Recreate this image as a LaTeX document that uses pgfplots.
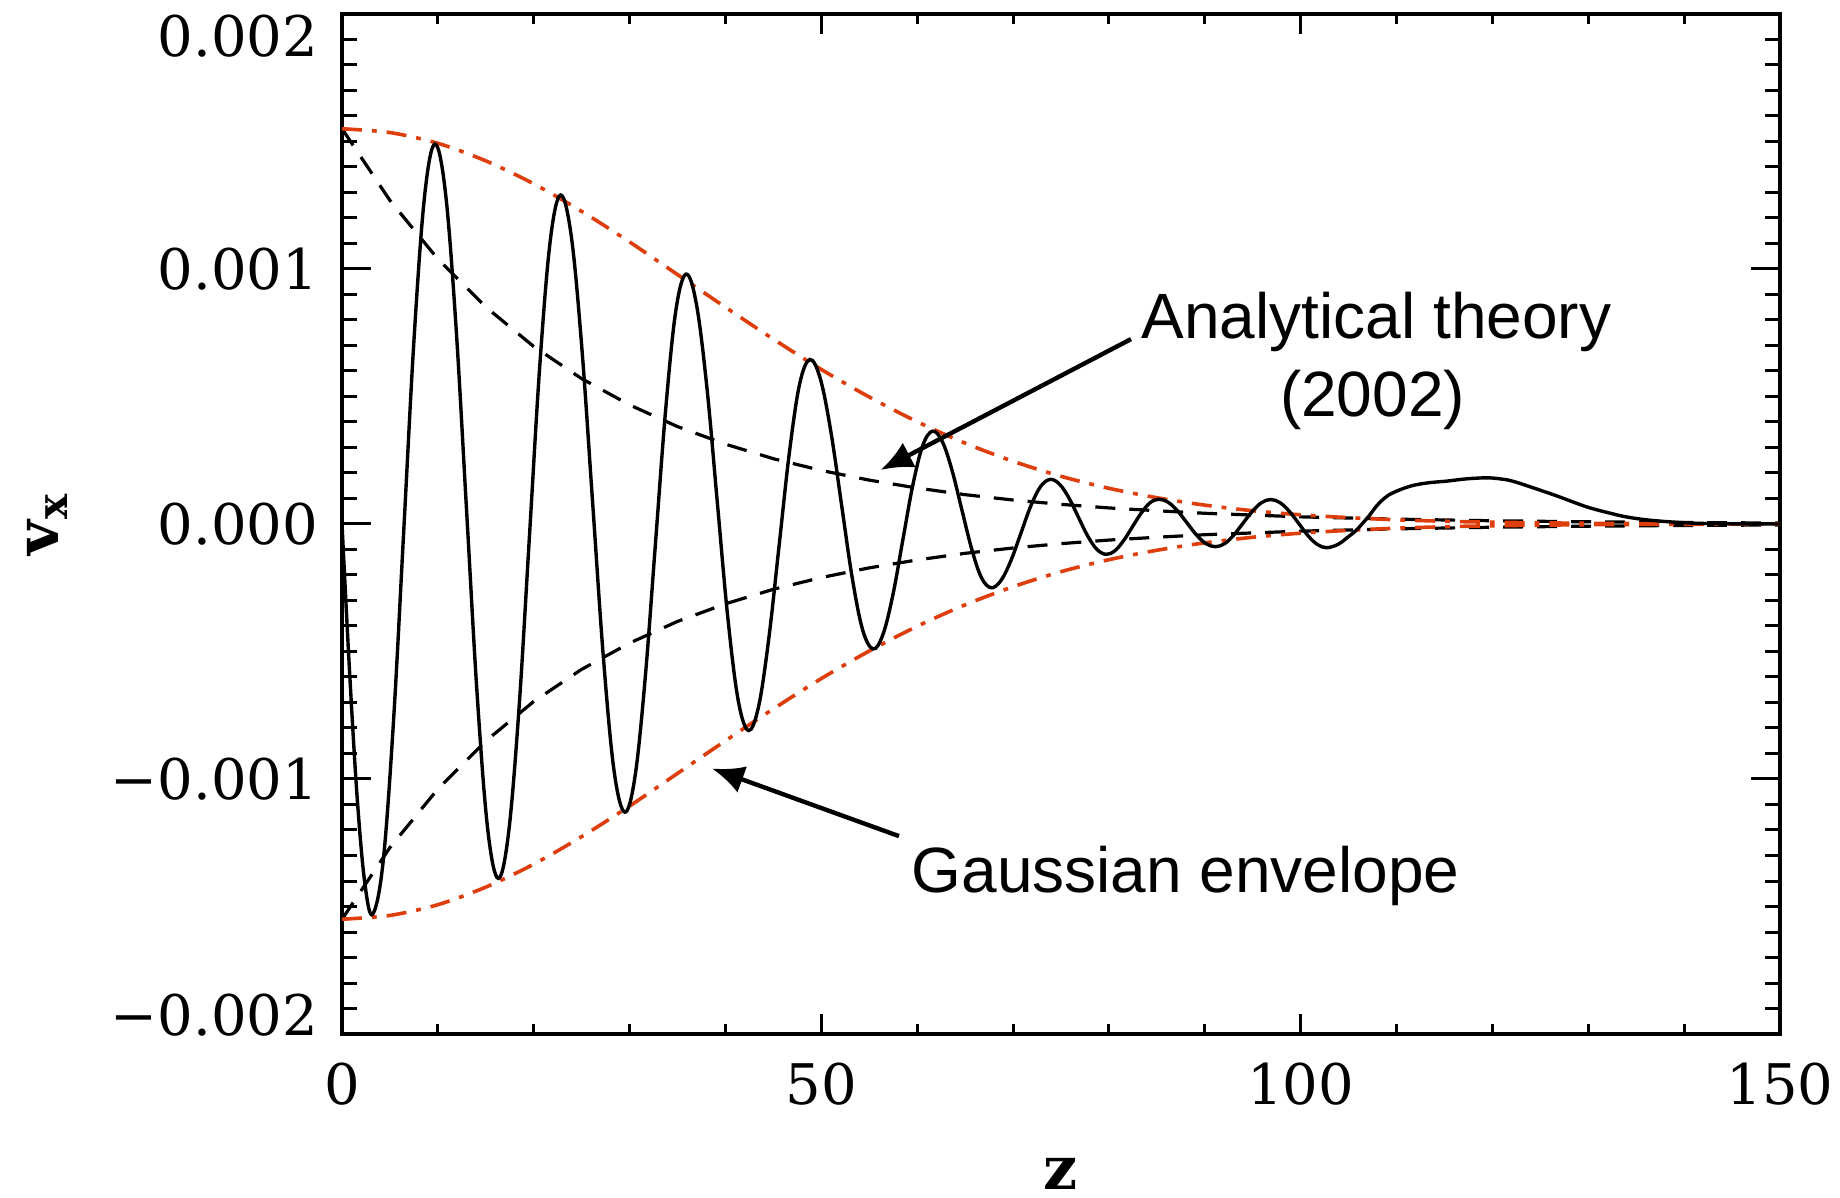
\documentclass[border=0pt]{standalone}
\usepackage{pgfplots}
\pgfplotsset{compat=1.18}
\usepackage{pgfplotstable}
\usepackage{fontspec}
\setmainfont{DejaVu Serif}
\newfontfamily\helv{Liberation Sans}
\usetikzlibrary{arrows.meta}
\definecolor{envred}{RGB}{222,62,12}

\pgfplotstableread{
x y
0 0
0.8 -0.586
1.6 -1.082
2.4 -1.414
3.2 -1.53
4.28 -1.328
5.37 -0.775
6.45 -0.02
7.53 0.735
8.62 1.288
9.7 1.49
10.8 1.297
11.9 0.77
13.0 0.05
14.1 -0.67
15.2 -1.197
16.3 -1.39
17.38 -1.21
18.47 -0.72
19.55 -0.05
20.63 0.62
21.72 1.11
22.8 1.29
23.92 1.128
25.03 0.685
26.15 0.08
27.27 -0.525
28.38 -0.968
29.5 -1.13
30.57 -0.989
31.63 -0.603
32.7 -0.075
33.77 0.452
34.83 0.839
35.9 0.98
36.98 0.86
38.07 0.533
39.15 0.085
40.23 -0.362
41.32 -0.69
42.4 -0.81
43.47 -0.713
44.53 -0.446
45.6 -0.083
46.67 0.281
47.73 0.548
48.8 0.645
49.9 0.569
51.0 0.361
52.1 0.078
53.2 -0.206
54.3 -0.414
55.4 -0.49
56.43 -0.433
57.47 -0.277
58.5 -0.063
59.53 0.15
60.57 0.307
61.6 0.364
62.62 0.323
63.63 0.211
64.65 0.057
65.67 -0.096
66.68 -0.209
67.7 -0.25
68.73 -0.222
69.77 -0.144
70.8 -0.038
71.83 0.069
72.87 0.147
73.9 0.175
74.87 0.155
75.83 0.102
76.8 0.028
77.77 -0.046
78.73 -0.099
79.7 -0.119
80.62 -0.105
81.53 -0.065
82.45 -0.011
83.37 0.043
84.28 0.083
85.2 0.097
86.18 0.085
87.17 0.051
88.15 0.004
89.13 -0.043
90.12 -0.077
91.1 -0.089
92.07 -0.077
93.03 -0.043
94.0 0.004
94.97 0.05
95.93 0.084
96.9 0.096
97.87 0.083
98.83 0.049
99.8 0.002
100.77 -0.046
101.73 -0.080
102.7 -0.093
103.9 -0.080
104.8 -0.055
105.7 -0.028
106.4 0.0
107.2 0.035
107.9 0.070
108.7 0.100
109.6 0.122
111.4 0.148
113.2 0.161
115.2 0.168
117.3 0.177
119.4 0.181
120.8 0.177
122.1 0.168
124.4 0.140
126.8 0.109
128.5 0.085
130.1 0.064
132.0 0.045
133.8 0.029
135.7 0.018
137.6 0.011
139.5 0.006
141.2 0.003
144 0.001
150 0.0
}\solid

\pgfplotstableread{
x up lo
0 1.550 -1.550
5 1.535 -1.535
10 1.493 -1.493
15 1.424 -1.424
20 1.334 -1.334
25 1.226 -1.226
30 1.106 -1.106
35 0.978 -0.978
40 0.850 -0.850
45 0.725 -0.725
50 0.606 -0.606
55 0.498 -0.498
60 0.401 -0.401
65 0.317 -0.317
70 0.246 -0.246
75 0.187 -0.187
80 0.140 -0.140
85 0.103 -0.103
90 0.074 -0.074
95 0.052 -0.052
100 0.036 -0.036
105 0.025 -0.025
110 0.0165 -0.0165
115 0.0108 -0.0108
120 0.007 -0.007
130 0.0027 -0.0027
140 0.001 -0.001
150 0.0003 -0.0003
}\gauss

\pgfplotstableread{
x up lo
0 1.550 -1.550
5 1.269 -1.269
10 1.039 -1.039
15 0.851 -0.851
20 0.696 -0.696
25 0.570 -0.570
30 0.467 -0.467
35 0.382 -0.382
40 0.313 -0.313
45 0.256 -0.256
50 0.210 -0.210
55 0.172 -0.172
60 0.141 -0.141
65 0.115 -0.115
70 0.094 -0.094
75 0.077 -0.077
80 0.063 -0.063
85 0.052 -0.052
90 0.042 -0.042
95 0.035 -0.035
100 0.028 -0.028
110 0.019 -0.019
120 0.0127 -0.0127
130 0.0085 -0.0085
140 0.0057 -0.0057
150 0.0038 -0.0038
}\theory

\begin{document}
\begin{tikzpicture}
\useasboundingbox (-85.5pt,-41pt) rectangle (374.5pt,258.5pt);
\begin{axis}[
  name=ax,
  scale only axis,
  width=359.5pt, height=255pt,
  xmin=0, xmax=150, ymin=-2, ymax=2,
  xtick={0,50,100,150},
  xticklabels={0,50,100,150},
  ytick={-2,-1,0,1,2},
  yticklabels={\raisebox{4.8pt}[\height][\depth]{−0.002},−0.001,0.000,0.001,\raisebox{-5.5pt}[\height][\depth]{0.002}},
  minor x tick num=4,
  minor y tick num=9,
  tick align=inside,
  major tick length=7.25pt,
  minor tick length=3.75pt,
  xtick style={/pgfplots/major tick length=5pt},
  minor x tick style={/pgfplots/minor tick length=2.4pt},
  tick style={line width=0.75pt, black},
  axis line style={line width=1pt},
  ticklabel style={font=\fontsize{14}{16}\selectfont},
  xticklabel style={inner sep=0pt, yshift=-7pt},
  yticklabel style={inner sep=0pt, xshift=-5.75pt},
  ylabel={\textbf{v}\textsubscript{\textbf{x}}},
  label style={font=\fontsize{15}{18}\selectfont},
  ylabel style={at={(axis description cs:-0.1905,0.5)}, anchor=south, inner sep=0pt},
  clip=true,
]
\addplot[black, line width=0.8pt, dash pattern=on 5pt off 3.5pt] table[x=x, y=up] {\theory};
\addplot[black, line width=0.8pt, dash pattern=on 5pt off 3.5pt] table[x=x, y=lo] {\theory};
\addplot[envred, line width=0.9pt, smooth, dash pattern=on 5pt off 2.5pt on 1.2pt off 2.5pt] table[x=x, y=up] {\gauss};
\addplot[envred, line width=0.9pt, smooth, dash pattern=on 5pt off 2.5pt on 1.2pt off 2.5pt] table[x=x, y=lo] {\gauss};
\addplot[black, line width=0.85pt, smooth, tension=0.6] table[x=x, y=y] {\solid};

\draw[line width=1.1pt, -{Latex[length=8pt, width=7pt]}] (axis cs:82.3,0.725) -- (axis cs:56.2,0.212);
\draw[line width=1.1pt, -{Latex[length=8pt, width=7pt]}] (axis cs:58.1,-1.224) -- (axis cs:38.6,-0.959);
\node[anchor=base, inner sep=0pt, font=\helv\fontsize{16}{19}\selectfont] at (axis cs:107.9,0.727) {Analytical theory};
\node[anchor=base, inner sep=0pt, font=\helv\fontsize{16}{19}\selectfont] at (axis cs:107.5,0.421) {(2002)};
\node[anchor=base, inner sep=0pt, font=\helv\fontsize{16}{19}\selectfont] at (axis cs:88.0,-1.447) {Gaussian envelope};
\end{axis}
\node[anchor=north, inner sep=0pt, font=\fontsize{15}{18}\selectfont] at ([yshift=-31pt]ax.south) {\textbf{z}};
\end{tikzpicture}
\end{document}
